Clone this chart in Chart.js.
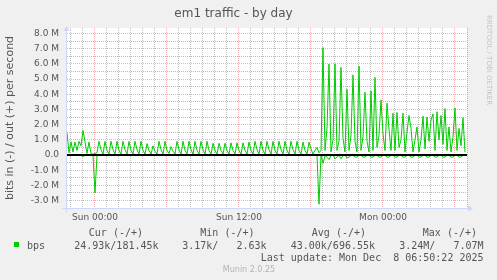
<!DOCTYPE html>
<html><head><meta charset="utf-8">
<script src="https://cdn.jsdelivr.net/npm/chart.js@4/dist/chart.umd.min.js"></script>
<style>html,body{margin:0;padding:0;background:#f0f0f0;overflow:hidden}canvas{display:block}</style>
</head><body>
<canvas id="c" width="497" height="280"></canvas>
<script>
// ---- data ----
const chartTitle = 'em1 traffic - by day';
const yAxisTitle = 'bits in (-) / out (+) per second';
const startHour = -2.3333;      // first sample: Sat 21:40 (hours from Sun 00:00)
const sampleHours = 1 / 6;      // one sample per 10 minutes
const xTickLabels = {0: 'Sun 00:00', 12: 'Sun 12:00', 24: 'Mon 00:00'};
// out (+) bits per second, in millions
const outValues = [
 1.45,0.15,0.87,0.2,0.85,0.3,0.9,0.6,1.62,0.85,0.1,0.85,0.1,0.05,0.1,0.15,
 0.9,0.35,0.05, 0.9,0.3,0.05, 0.9,0.35,0.05, 0.9,0.3,0.05, 0.9,0.35,0.05,
 0.9,0.3,0.05, 0.9,0.35,0.05, 0.9,0.3,0.05, 0.75,0.3,0.05, 0.6,0.25,0.05,
 0.9,0.35,0.05, 0.9,0.3,0.1, 0.55,0.25,0.05, 0.9,0.35,0.05, 0.9,0.3,0.05,
 0.9,0.35,0.05, 0.9,0.3,0.05, 0.9,0.35,0.05, 0.9,0.3,0.05, 0.77,0.3,0.05,
 0.77,0.3,0.05, 0.77,0.3,0.05, 0.8,0.3,0.05, 0.8,0.3,0.05, 0.8,0.3,0.05,
 0.85,0.3,0.05, 0.9,0.35,0.05, 0.9,0.3,0.05, 0.9,0.35,0.05, 0.9,0.3,0.05,
 0.9,0.35,0.05, 0.9,0.3,0.05, 0.9,0.35,0.05, 0.9,0.3,0.05, 0.85,0.3,0.05,
 0.85,0.4,0.05,0.3,0.5,0.15,0.3,
 7.07,0.3,1.75,5.99,0.2,1.0,6.0,0.3,0.9,5.77,1.1,0.2,4.33,0.3,1.3,5.27,0.9,0.2,
 5.86,0.3,1.2,4.13,0.9,0.2,4.22,0.3,5.11,0.5,1.3,3.63,1.4,0.3,3.41,1.7,0.3,
 2.75,0.3,2.8,0.5,1.0,2.75,0.2,1.5,2.6,1.75,0.2,1.0,1.85,0.2,1.0,2.55,0.4,2.5,
 0.9,2.3,2.7,0.3,2.85,1.0,2.6,0.7,3.05,0.3,1.85,0.2,1.2,3.1,0.3,1.75,0.6,2.45,0.18
];
// in (-) bits per second, in millions (drawn negative)
const inValues = [
 -0.02,-0.03,-0.02,-0.02,-0.03,-0.02,-0.02,-0.03,-0.1,
 -0.02,-0.02,-0.03,-0.02,-0.02,-2.5,
 -0.02,-0.03,-0.02,-0.02,-0.03,-0.02,-0.02,-0.03,-0.02,-0.02,
 -0.02,-0.03,-0.02,-0.02,-0.03,-0.02,-0.02,-0.03,-0.02,-0.02,
 -0.02,-0.03,-0.02,-0.02,-0.03,-0.02,-0.02,-0.03,-0.02,-0.02,
 -0.02,-0.03,-0.02,-0.02,-0.03,-0.02,-0.02,-0.03,-0.02,-0.02,
 -0.02,-0.03,-0.02,-0.02,-0.03,-0.02,-0.02,-0.03,-0.02,-0.02,
 -0.02,-0.03,-0.02,-0.02,-0.03,-0.02,-0.02,-0.03,-0.02,-0.02,
 -0.02,-0.03,-0.02,-0.02,-0.03,-0.02,-0.02,-0.03,-0.02,-0.02,
 -0.02,-0.03,-0.02,-0.02,-0.03,-0.02,-0.02,-0.03,-0.02,-0.02,
 -0.02,-0.03,-0.02,-0.02,-0.03,-0.02,-0.02,-0.03,-0.02,-0.02,
 -0.02,-0.03,-0.02,-0.02,-0.03,-0.02,-0.02,-0.03,-0.02,-0.02,
 -0.02,-0.03,-0.02,-0.02,-0.03,-0.02,-0.02,-0.03,-0.02,-0.02,
 -0.02,
 -3.24,
 -0.03,-0.55,-0.05,-0.14,-0.3,-0.04,-0.02,-0.25,-0.14,-0.02,
 -0.25,-0.04,-0.02,-0.2,-0.14,-0.02,-0.02,-0.14,-0.14,-0.02,
 -0.02,-0.14,-0.14,-0.02,-0.02,-0.14,-0.14,-0.02,-0.02,-0.14,
 -0.14,-0.02,-0.02,-0.14,-0.14,-0.02,-0.02,-0.14,-0.14,-0.02,
 -0.02,-0.14,-0.14,-0.02,-0.02,-0.14,-0.14,-0.02,-0.02,-0.14,
 -0.14,-0.02,-0.02,-0.14,-0.14,-0.02,-0.02,-0.14,-0.14,-0.02,
 -0.02,-0.14,-0.14,-0.02,-0.02,-0.14,-0.14,-0.02,-0.02,-0.14,
 -0.14,-0.02,-0.02
];
const seriesName = 'bps';
const legendHeaders = ['Cur (-/+)', 'Min (-/+)', 'Avg (-/+)', 'Max (-/+)'];
const legendValues = ['24.93k/181.45k', '3.17k/   2.63k', '43.00k/696.55k', '3.24M/   7.07M'];
const lastUpdate = 'Last update: Mon Dec  8 06:50:22 2025';
const footer = 'Munin 2.0.25';
const sideText = 'RRDTOOL / TOBI OETIKER';

// ---- chart ----
const GREEN = '#00cc00';
const RED_GRID = 'rgba(222,79,79,0.45)';
const GRAY_GRID = 'rgba(143,143,143,0.62)';
const AXIS = '#cfd6f8';
const FONT = 'DejaVu Sans';
const MONO = 'DejaVu Sans Mono';

const toPoints = arr => arr.map((v, i) => ({x: startHour + i * sampleHours, y: v}));

const decor = {
  id: 'decor',
  beforeDraw(chart) {
    const {ctx, chartArea: a} = chart;
    ctx.save();
    ctx.fillStyle = '#f0f0f0';
    ctx.fillRect(0, 0, chart.width, chart.height);
    ctx.fillStyle = '#ffffff';
    ctx.fillRect(a.left, a.top, a.right - a.left, a.bottom - a.top);
    ctx.restore();
  },
  afterDatasetsDraw(chart) {
    const {ctx, chartArea: a, scales} = chart;
    ctx.save();
    // zero line
    const y0 = scales.y.getPixelForValue(0);
    ctx.strokeStyle = '#000';
    ctx.lineWidth = 2;
    ctx.beginPath(); ctx.moveTo(a.left, y0); ctx.lineTo(a.right, y0); ctx.stroke();
    // axes with arrows
    ctx.strokeStyle = AXIS; ctx.fillStyle = AXIS; ctx.lineWidth = 1;
    const ax = a.left - 0.5, ay = a.bottom + 0.5;
    ctx.beginPath(); ctx.moveTo(ax, ay + 4); ctx.lineTo(ax, a.top + 3); ctx.stroke();
    ctx.beginPath(); ctx.moveTo(ax - 3, a.top + 3); ctx.lineTo(ax + 3, a.top + 3); ctx.lineTo(ax, a.top - 2); ctx.closePath(); ctx.fill();
    ctx.beginPath(); ctx.moveTo(ax - 4, ay); ctx.lineTo(a.right + 1, ay); ctx.stroke();
    ctx.beginPath(); ctx.moveTo(a.right + 1, ay - 3); ctx.lineTo(a.right + 1, ay + 3); ctx.lineTo(a.right + 6, ay); ctx.closePath(); ctx.fill();
    ctx.restore();
  },
  afterDraw(chart) {
    const {ctx} = chart;
    ctx.save();
    ctx.textBaseline = 'middle';
    // side text
    ctx.save();
    ctx.translate(488.5, 15);
    ctx.rotate(Math.PI / 2);
    ctx.font = '7px "' + FONT + '"';
    ctx.fillStyle = '#c4c4c4';
    ctx.textAlign = 'left';
    ctx.fillText(sideText, 0, 0);
    ctx.restore();
    // legend
    ctx.fillStyle = GREEN;
    ctx.fillRect(14, 242, 5, 5);
    ctx.font = '10px "' + MONO + '"';
    ctx.fillStyle = '#555';
    ctx.textAlign = 'left';
    ctx.fillText(seriesName, 27, 246);
    ctx.textAlign = 'right';
    const headerRight = [143, 254.5, 366, 477];
    const valueRight = [158.5, 266.5, 375, 483.5];
    legendHeaders.forEach((t, i) => ctx.fillText(t, headerRight[i], 233.5));
    legendValues.forEach((t, i) => ctx.fillText(t, valueRight[i], 246));
    ctx.fillText(lastUpdate, 483.5, 258);
    ctx.textAlign = 'center';
    ctx.font = '8px "' + FONT + '"';
    ctx.fillStyle = '#b4b4b4';
    ctx.fillText(footer, 249, 269.5);
    ctx.restore();
  }
};

new Chart(document.getElementById('c'), {
  type: 'line',
  data: {
    datasets: [
      {label: 'out', data: toPoints(outValues), borderColor: GREEN, borderWidth: 1, pointRadius: 0, tension: 0, fill: false},
      {label: 'in', data: toPoints(inValues), borderColor: GREEN, borderWidth: 1, pointRadius: 0, tension: 0, fill: false}
    ]
  },
  options: {
    responsive: false,
    animation: false,
    devicePixelRatio: 1,
    layout: {padding: {left: 0, right: 30, top: 0, bottom: 0}},
    plugins: {
      legend: {display: false},
      tooltip: {enabled: false},
      title: {display: true, text: chartTitle, color: '#555', font: {family: FONT, size: 12, weight: 'normal'}, padding: {top: 7, bottom: 6.6}}
    },
    scales: {
      x: {
        type: 'linear', min: startHour, max: 31,
        afterFit(s) { s.height = 72; },
        ticks: {stepSize: 1, includeBounds: false, autoSkip: false, maxRotation: 0, padding: 4, color: '#555',
          font: {family: FONT, size: 9}, callback: v => xTickLabels[v] || ''},
        grid: {drawTicks: false, lineWidth: 1, color: c => (Math.round(c.tick.value) % 6 === 0 ? RED_GRID : GRAY_GRID)},
        border: {display: false, dash: [1, 1]}
      },
      y: {
        type: 'linear', min: -3.49, max: 8.36,
        afterFit(s) { s.width = 67; },
        ticks: {stepSize: 0.5, includeBounds: false, autoSkip: false, padding: 8, color: '#555',
          font: {family: FONT, size: 9},
          callback: v => (Math.abs(v - Math.round(v)) > 1e-6 ? '' : (v === 0 ? '0.0' : v.toFixed(1) + ' M'))},
        grid: {drawTicks: false, lineWidth: 1, color: c => (Math.abs(c.tick.value - Math.round(c.tick.value)) < 1e-6 ? RED_GRID : GRAY_GRID)},
        border: {display: false, dash: [1, 1]},
        title: {display: true, text: yAxisTitle, color: '#555', font: {family: FONT, size: 11}, padding: {top: 4, bottom: 0}}
      }
    }
  },
  plugins: [decor]
});
</script>
</body></html>
